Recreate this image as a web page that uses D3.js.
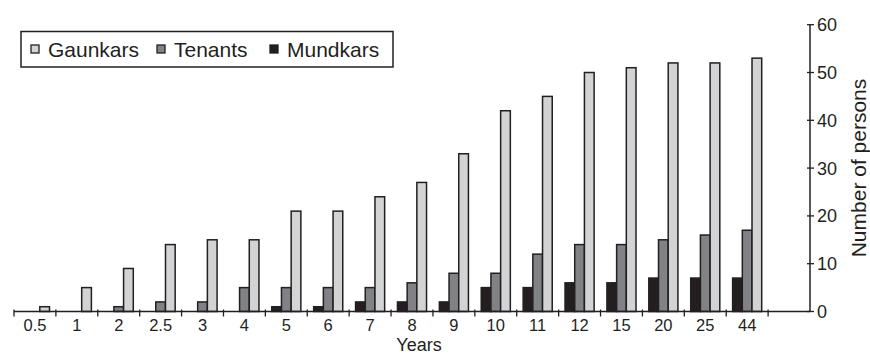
<!DOCTYPE html>
<html><head><meta charset="utf-8">
<script src="https://cdn.jsdelivr.net/npm/d3@7/dist/d3.min.js"></script>
<style>
body{margin:0;background:#fff;}
text{font-family:"Liberation Sans",Arial,sans-serif;fill:#231f20;}
</style></head>
<body><svg id="c" width="870" height="354"></svg>
<script>
const categories = ["0.5","1","2","2.5","3","4","5","6","7","8","9","10","11","12","15","20","25","44"];
const gaunkars = [1,5,9,14,15,15,21,21,24,27,33,42,45,50,51,52,52,53];
const tenants  = [0,0,1,2,2,5,5,5,5,6,8,8,12,14,14,15,16,17];
const mundkars = [0,0,0,0,0,0,1,1,2,2,2,5,5,6,6,7,7,7];
const seriesNames = ["Mundkars","Tenants","Gaunkars"];
const legendNames = ["Gaunkars","Tenants","Mundkars"];
const yTicks = [0,10,20,30,40,50,60];

const colors = {Gaunkars:"#d1d3d4", Tenants:"#808285", Mundkars:"#231f20"};
const values = {Gaunkars:gaunkars, Tenants:tenants, Mundkars:mundkars};
const ink = "#231f20";

const svg = d3.select("#c");
const left = 14, axisX = 810, y0 = 311.5, yTop = 24.7;
const step = (axisX-left)/(categories.length+1);

const x = d3.scaleBand().domain(categories).range([left, left+step*categories.length]).paddingInner(0).paddingOuter(0);
const x1 = d3.scaleBand().domain(seriesNames).range([0, x.bandwidth()]).paddingInner(0).paddingOuter(0.66);
const y = d3.scaleLinear().domain([0,60]).range([y0, yTop]);

// bars
const g = svg.append("g");
seriesNames.forEach(s=>{
  g.selectAll(null).data(categories).enter().append("rect")
    .filter((d,i)=>values[s][i]>0)
    .attr("x", d=>x(d)+x1(s))
    .attr("width", x1.bandwidth())
    .attr("y", (d)=>y(values[s][categories.indexOf(d)]))
    .attr("height", (d)=>y(0)-y(values[s][categories.indexOf(d)]))
    .attr("fill", colors[s]).attr("stroke", ink).attr("stroke-width",1.5);
});

// x axis
svg.append("line").attr("x1",left).attr("x2",axisX).attr("y1",y0).attr("y2",y0).attr("stroke",ink).attr("stroke-width",1.5);
const bounds = categories.map(c=>x(c)).concat([x(categories[categories.length-1])+x.bandwidth()]);
svg.selectAll(null).data(bounds).enter().append("line")
  .attr("x1",d=>d).attr("x2",d=>d).attr("y1",y0-2).attr("y2",y0+5).attr("stroke",ink).attr("stroke-width",1.3);
svg.selectAll(null).data(categories).enter().append("text")
  .attr("x",d=>x(d)+x.bandwidth()/2).attr("y",331).attr("text-anchor","middle")
  .attr("font-size",16.5).text(d=>d);
svg.append("text").attr("x",419).attr("y",351).attr("text-anchor","middle").attr("font-size",18).text("Years");

// y axis
svg.append("line").attr("x1",axisX).attr("x2",axisX).attr("y1",yTop).attr("y2",y0).attr("stroke",ink).attr("stroke-width",1.5);
svg.selectAll(null).data(yTicks).enter().append("line")
  .attr("x1",axisX-3).attr("x2",axisX+4).attr("y1",d=>y(d)).attr("y2",d=>y(d)).attr("stroke",ink).attr("stroke-width",1.3);
svg.selectAll(null).data(yTicks).enter().append("text")
  .attr("x",817).attr("y",d=>y(d)+6.5).attr("font-size",18).text(d=>d);
svg.append("text").attr("transform","translate(866,168) rotate(-90)").attr("text-anchor","middle")
  .attr("font-size",21).text("Number of persons");

// legend
svg.append("rect").attr("x",21).attr("y",31.5).attr("width",372).attr("height",35.5)
  .attr("fill","#fff").attr("stroke",ink).attr("stroke-width",1.5);
const legX = [31,157,270];
legendNames.forEach((s,i)=>{
  svg.append("rect").attr("x",legX[i]).attr("y",45).attr("width",8).attr("height",8)
    .attr("fill",colors[s]).attr("stroke",ink).attr("stroke-width",1.3);
  svg.append("text").attr("x",legX[i]+17).attr("y",56.5).attr("font-size",21).text(s);
});
</script></body></html>
